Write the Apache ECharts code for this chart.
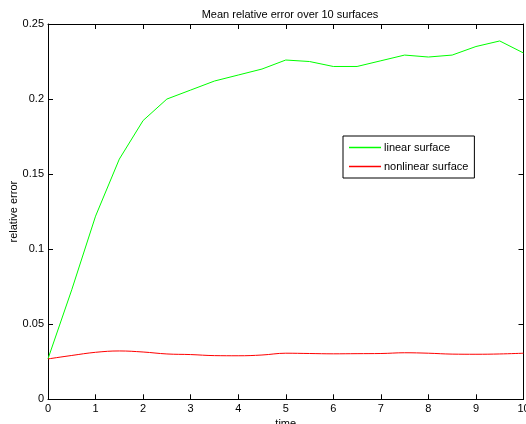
<!DOCTYPE html>
<html>
<head>
<meta charset="utf-8">
<script src="https://cdn.jsdelivr.net/npm/echarts@6/dist/echarts.min.js"></script>
<style>
  html, body { margin: 0; padding: 0; background: #fff; }
  #chart { width: 526px; height: 424px; }
</style>
</head>
<body>
<div id="chart"></div>
<script>
// time steps (0..10 every 0.5)
const times = [0, 0.5, 1, 1.5, 2, 2.5, 3, 3.5, 4, 4.5, 5, 5.5, 6, 6.5, 7, 7.5, 8, 8.5, 9, 9.5, 10]
const linearErr = [0.027, 0.073, 0.122, 0.160, 0.1857, 0.200, 0.206, 0.212, 0.216, 0.220, 0.226, 0.225, 0.2217, 0.2217, 0.2255, 0.2293, 0.228, 0.2293, 0.235, 0.2387, 0.2307]
const nonlinearErr = [0.0269, 0.0292, 0.0313, 0.0322, 0.0315, 0.0302, 0.0298, 0.0291, 0.029, 0.0295, 0.0307, 0.0305, 0.0303, 0.0304, 0.0305, 0.031, 0.0307, 0.0301, 0.030, 0.0302, 0.0307]
const xTicks = [0, 1, 2, 3, 4, 5, 6, 7, 8, 9, 10]
const yTicks = [0, 0.05, 0.1, 0.15, 0.2, 0.25]

const font = 'Liberation Sans, Arial, sans-serif'
const chart = echarts.init(document.getElementById('chart'), null, { renderer: 'canvas' })

const pairs = (ys) => times.map((t, i) => [t, ys[i]])

const axisCommon = {
  axisLine: { show: true, onZero: false, lineStyle: { color: '#000', width: 1 } },
  axisTick: { show: true, inside: true, length: 5, lineStyle: { color: '#000' } },
  splitLine: { show: false }
}

chart.setOption({
  animation: false,
  backgroundColor: '#fff',
  title: {
    text: 'Mean relative error over 10 surfaces',
    left: 285,
    textAlign: 'center',
    top: 4,
    textStyle: { fontFamily: font, fontSize: 11, fontWeight: 'normal', color: '#000' }
  },
  grid: { left: 48, right: 2.5, top: 24, bottom: 24.7, outerBoundsMode: 'none', containLabel: false },
  legend: {
    orient: 'vertical',
    left: 343,
    top: 136,
    padding: [6, 6, 6, 6],
    itemGap: 8,
    itemWidth: 32,
    itemHeight: 1.5,
    icon: 'rect',
    borderColor: '#000',
    borderWidth: 1,
    backgroundColor: '#fff',
    textStyle: { fontFamily: font, fontSize: 11, color: '#000', padding: [0, 0, 0, -2] },
    data: ['linear surface', 'nonlinear surface']
  },
  xAxis: [
    Object.assign({}, axisCommon, {
      type: 'value', min: 0, max: 10, interval: 1,
      name: 'time', nameLocation: 'middle', nameGap: 19, nameMoveOverlap: false,
      nameTextStyle: { fontFamily: font, fontSize: 11, color: '#000' },
      axisLabel: { fontFamily: font, fontSize: 11, color: '#000', margin: 4 }
    }),
    Object.assign({}, axisCommon, {
      type: 'value', min: 0, max: 10, interval: 1, position: 'top',
      axisLabel: { show: false }
    })
  ],
  yAxis: [
    Object.assign({}, axisCommon, {
      type: 'value', min: 0, max: 0.25, interval: 0.05,
      name: 'relative error', nameLocation: 'middle', nameGap: 29, nameMoveOverlap: false,
      nameTextStyle: { fontFamily: font, fontSize: 11, color: '#000' },
      axisLabel: { fontFamily: font, fontSize: 11, color: '#000', margin: 4 }
    }),
    Object.assign({}, axisCommon, {
      type: 'value', min: 0, max: 0.25, interval: 0.05, position: 'right',
      axisLabel: { show: false }
    })
  ],
  series: [
    {
      name: 'linear surface', type: 'line', data: pairs(linearErr),
      symbol: 'none', color: '#00ff00', lineStyle: { color: '#00ff00', width: 1 }
    },
    {
      name: 'nonlinear surface', type: 'line', data: pairs(nonlinearErr),
      symbol: 'none', smooth: 0.4, color: '#ff0000', lineStyle: { color: '#ff0000', width: 1 }
    }
  ]
})
</script>
</body>
</html>
